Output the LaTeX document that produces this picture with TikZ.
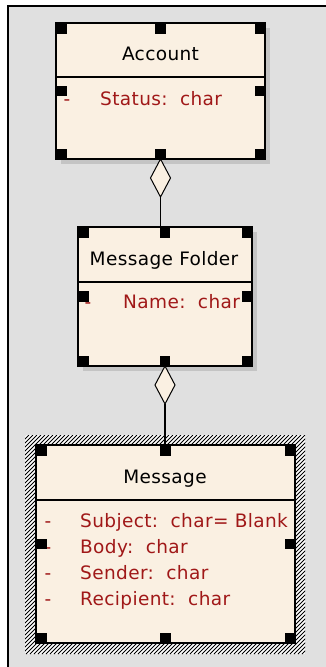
\documentclass[tikz,border=0pt]{standalone}
\usepackage{fontspec}
\setmainfont{DejaVu Sans}[LetterSpace=2]
\usetikzlibrary{shapes.geometric,calc}
\definecolor{cream}{RGB}{250,240,226}
\definecolor{bggray}{RGB}{224,224,224}
\definecolor{shadowgray}{RGB}{196,196,196}
\definecolor{attrred}{RGB}{160,24,24}
\begin{document}
\begin{tikzpicture}[x=1pt,y=-1pt,
  classbox/.style={draw=black, line width=1.2pt, fill=cream, inner sep=0pt, outer sep=0pt, anchor=north west},
  boxshadow/.style={fill=shadowgray},
  clstitle/.style={anchor=base, inner sep=0pt, text=black, font=\fontsize{18.5}{20}\selectfont},
  attr/.style={anchor=base west, inner sep=0pt, text=attrred, font=\fontsize{18.5}{20}\selectfont},
  attrdash/.style={anchor=base, inner sep=0pt, text=attrred, font=\fontsize{18.5}{20}\selectfont},
  agg/.style={diamond, draw=black, line width=1pt, fill=cream, minimum width=20pt, minimum height=38pt, inner sep=0pt, outer sep=0pt, anchor=north},
  conn/.style={line width=1.2pt},
  divider/.style={line width=1.2pt},
  hatchline/.style={line width=0.9pt}]
\useasboundingbox (0,0) rectangle (326,667);
% frame
\fill[white] (0,0) rectangle (326,667);
\fill[bggray] (8,6) rectangle (326,667);
\draw[line width=2pt] (8,667) -- (8,6) -- (326,6);
% shadows
\fill[boxshadow] (61,28) rectangle (270,164);
\fill[boxshadow] (83,232) rectangle (257,371);
% hatch around selected class
\begin{scope}
\clip (25,435) rectangle (305,654);
\fill[white] (25,435) rectangle (305,654);
\foreach \c in {460,464,...,964} \draw[hatchline] (\c-654,654) -- (\c-435,435);
\end{scope}
% class boxes
\node[classbox, minimum width=209pt, minimum height=136pt] (account) at (56,23) {};
\node[classbox, minimum width=174pt, minimum height=139pt] (folder) at (78,227) {};
\node[classbox, minimum width=259pt, minimum height=198pt] (message) at (36,445) {};
% dividers
\draw[divider] ($(account.north west)+(0,54)$) -- ($(account.north east)+(0,54)$);
\draw[divider] ($(folder.north west)+(0,55)$) -- ($(folder.north east)+(0,55)$);
\draw[divider] ($(message.north west)+(0,55)$) -- ($(message.north east)+(0,55)$);
% titles
\node[clstitle] (accountT) at (160.5,60) {Account};
\node[clstitle] (folderT) at (164,265) {Message Folder};
\node[clstitle] (messageT) at (165,483) {Message};
% attributes
\node[attrdash] (a1d) at (67,105) {-};
\node[attr] (a1) at (100,105) {Status:\ \ char};
\node[attrdash] (f1d) at (88,308) {-};
\node[attr] (f1) at (123,308) {Name:\ \ char};
\node[attrdash] (m1d) at (48,527) {-};
\node[attr] (m1) at (80,527) {Subject:\ \ char=\ Blank};
\node[attrdash] (m2d) at (48,553) {-};
\node[attr] (m2) at (80,553) {Body:\ \ char};
\node[attrdash] (m3d) at (48,579) {-};
\node[attr] (m3) at (80,579) {Sender:\ \ char};
\node[attrdash] (m4d) at (48,605) {-};
\node[attr] (m4) at (80,605) {Recipient:\ \ char};
% aggregations
\node[agg] (d1) at (account.south) {};
\draw[conn] (d1.south) -- (d1.south |- folder.north);
\node[agg] (d2) at (folder.south) {};
\draw[conn] (d2.south) -- (d2.south |- message.north);
% selection handles
\foreach \b in {account,folder,message}{
  \fill (\b.north west) rectangle +(10.5,10.5);
  \fill ($(\b.north)+(-5.25,0)$) rectangle +(10.5,10.5);
  \fill (\b.north east) rectangle +(-10.5,10.5);
  \fill ($(\b.west)+(0,-5.25)$) rectangle +(10.5,10.5);
  \fill ($(\b.east)+(0,-5.25)$) rectangle +(-10.5,10.5);
  \fill (\b.south west) rectangle +(10.5,-10.5);
  \fill ($(\b.south)+(-5.25,0)$) rectangle +(10.5,-10.5);
  \fill (\b.south east) rectangle +(-10.5,-10.5);
}
\end{tikzpicture}
\end{document}
